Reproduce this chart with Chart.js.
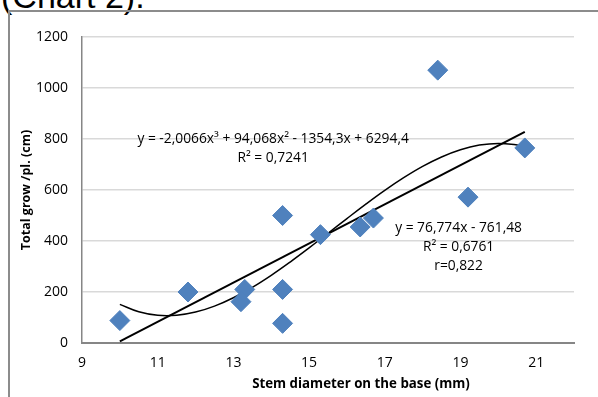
<!DOCTYPE html>
<html>
<head>
<meta charset="utf-8">
<script src="https://cdn.jsdelivr.net/npm/chart.js@4/dist/chart.umd.min.js"></script>
<style>
  html, body { margin: 0; padding: 0; background: #fff; overflow: hidden; }
  #wrap { position: relative; width: 598px; height: 397px; }
  #cap { position: absolute; left: 1px; top: -23px; font: 34px "Liberation Sans", Arial, sans-serif; color: #000; white-space: nowrap; }
  #frame { position: absolute; left: 8px; top: 10px; width: 600px; height: 400px; border-left: 2px solid #8c8c8c; border-top: 2px solid #8c8c8c; pointer-events: none; }
  canvas { position: absolute; left: 0; top: 0; }
</style>
</head>
<body>
<div id="wrap">
  <div id="cap">(Chart 2).</div>
  <div id="frame"></div>
  <canvas id="c" width="598" height="397"></canvas>
</div>
<script>
// Observed data: stem diameter (mm) vs total growth per plant (cm)
const stemDiameter = [10.0, 11.8, 13.3, 13.2, 14.3, 14.3, 14.3, 15.3, 16.35, 16.7, 18.4, 19.2, 20.7];
const totalGrowth  = [88, 200, 210, 162, 500, 210, 77, 425, 455, 490, 1070, 572, 765];

const linTrendX = [10.0, 20.7];
const linTrendY = [6.3, 827.7];
const polyTrendX = [10, 10.5, 11, 11.5, 12, 12.5, 13, 13.5, 14, 14.5, 15, 15.5, 16, 16.5, 17, 17.5, 18, 18.5, 19, 19.5, 20, 20.5, 20.7];
const polyTrendY = [151.6, 122.4, 108.6, 108.7, 121.2, 144.6, 177.5, 218.2, 265.4, 317.5, 372.9, 430.3, 488.0, 544.6, 598.5, 648.2, 692.5, 729.6, 758.0, 776.1, 782.8, 776.3, 769.4];

// Axis ticks
const xTickValues = [9, 11, 13, 15, 17, 19, 21];
const yTickValues = [0, 200, 400, 600, 800, 1000, 1200];

// Labels
const xTitle = 'Stem diameter on the base (mm)';
const yTitle = 'Total grow /pl. (cm)';
const polyLabel = ['y = -2,0066x³ + 94,068x² - 1354,3x + 6294,4', 'R² = 0,7241'];
const linLabel = ['y = 76,774x - 761,48', 'R² = 0,6761', 'r=0,822'];

const FONT = '"Open Sans", "Liberation Sans", sans-serif';
const zip = (xs, ys) => xs.map((x, i) => ({ x: x, y: ys[i] }));

const labelPlugin = {
  id: 'eqLabels',
  afterDatasetsDraw(chart) {
    const { ctx, scales: { x, y } } = chart;
    ctx.save();
    ctx.fillStyle = '#000';
    ctx.font = '13.8px ' + FONT;
    ctx.textAlign = 'center';
    ctx.textBaseline = 'middle';
    const drawBlock = (lines, cx, cy, lh) => {
      lines.forEach((t, i) => ctx.fillText(t, cx, cy + i * lh));
    };
    drawBlock(polyLabel, x.getPixelForValue(14.05), y.getPixelForValue(800), 19);
    drawBlock(linLabel, x.getPixelForValue(18.95), y.getPixelForValue(450), 19);
    // x axis title (offset to the right, as in the original)
    ctx.font = 'bold 13.3px ' + FONT;
    ctx.fillText(xTitle, 361, 384);
    ctx.restore();
  }
};

new Chart(document.getElementById('c'), {
  type: 'scatter',
  data: {
    datasets: [
      {
        label: 'Poly',
        type: 'line',
        data: zip(polyTrendX, polyTrendY),
        borderColor: '#000',
        borderWidth: 1.5,
        pointRadius: 0,
        tension: 0.4,
        fill: false
      },
      {
        label: 'Linear',
        type: 'line',
        data: zip(linTrendX, linTrendY),
        borderColor: '#000',
        borderWidth: 2,
        pointRadius: 0,
        fill: false
      },
      {
        label: 'Data',
        data: zip(stemDiameter, totalGrowth),
        pointStyle: 'rectRot',
        pointRadius: 10,
        pointHoverRadius: 10,
        backgroundColor: '#4F81BD',
        borderColor: '#4F81BD',
        borderWidth: 1,
        order: -1
      }
    ]
  },
  options: {
    responsive: false,
    animation: false,
    devicePixelRatio: 1,
    layout: { padding: { left: 0, right: 24, top: 37, bottom: 0 } },
    plugins: {
      legend: { display: false },
      tooltip: { enabled: false }
    },
    scales: {
      x: {
        type: 'linear',
        min: 9,
        max: 22,
        afterBuildTicks(scale) { scale.ticks = xTickValues.map(v => ({ value: v })); },
        afterFit(scale) { scale.height = 54; },
        grid: { display: false, drawTicks: false },
        border: { display: true, color: '#868686', width: 2 },
        ticks: {
          padding: 12,
          color: '#000',
          font: { family: FONT, size: 14 },
          maxRotation: 0,
          callback: v => String(v)
        },
        title: { display: false }
      },
      y: {
        type: 'linear',
        min: 0,
        max: 1200,
        afterBuildTicks(scale) { scale.ticks = yTickValues.map(v => ({ value: v })); },
        afterFit(scale) { scale.width = 82; },
        grid: { color: '#d9d9d9', lineWidth: 1.5, drawTicks: false },
        border: { display: true, color: '#868686', width: 1.5 },
        ticks: {
          padding: 14,
          color: '#000',
          font: { family: FONT, size: 14 },
          callback: v => String(v)
        },
        title: {
          display: true,
          text: yTitle,
          color: '#000',
          font: { family: FONT, size: 12.5, weight: 'bold' },
          padding: { top: 19, bottom: 0 }
        }
      }
    }
  },
  plugins: [labelPlugin]
});
</script>
</body>
</html>
